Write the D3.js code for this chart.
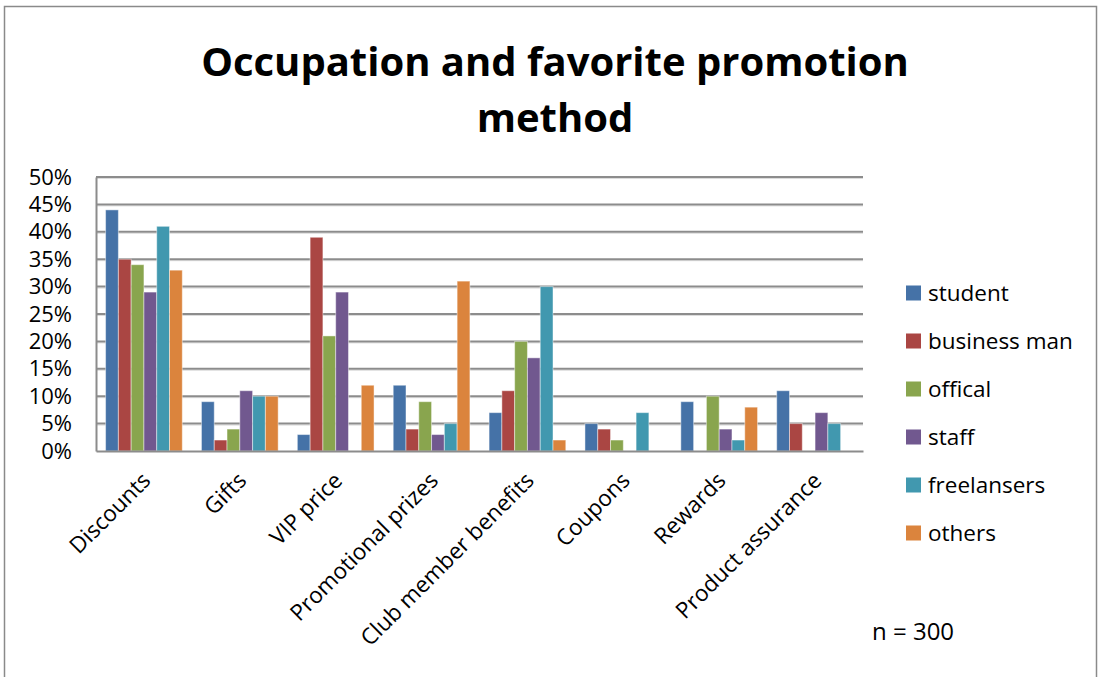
<!DOCTYPE html>
<html>
<head>
<meta charset="utf-8">
<script src="https://cdn.jsdelivr.net/npm/d3@7"></script>
<style>
  html, body { margin: 0; padding: 0; background: #fff; }
  svg { display: block; font-family: "Open Sans", "Noto Sans", sans-serif; }
</style>
</head>
<body>
<svg id="chart" width="1100" height="677"></svg>
<script>
// Promotion methods (x categories)
const categories = ["Discounts", "Gifts", "VIP price", "Promotional prizes",
  "Club member benefits", "Coupons", "Rewards", "Product assurance"];

// Occupation groups (series)
const seriesNames = ["student", "business man", "offical", "staff", "freelansers", "others"];

// Share (%) of each occupation choosing each method
const student     = [44, 9, 3, 12, 7, 5, 9, 11];
const businessMan = [35, 2, 39, 4, 11, 4, 0, 5];
const offical     = [34, 4, 21, 9, 20, 2, 10, 0];
const staff       = [29, 11, 29, 3, 17, 0, 4, 7];
const freelansers = [41, 10, 0, 5, 30, 7, 2, 5];
const others      = [33, 10, 12, 31, 2, 0, 8, 0];

const yTicks = [0, 5, 10, 15, 20, 25, 30, 35, 40, 45, 50];
const colors = ["#4572A7", "#AA4643", "#89A54E", "#71588F", "#4198AF", "#DB843D"];

const seriesValues = [student, businessMan, offical, staff, freelansers, others];
const rows = categories.map((c, i) => ({
  category: c,
  values: seriesNames.map((s, j) => ({ series: s, value: seriesValues[j][i] }))
}));

const svg = d3.select("#chart");

// outer chart frame
svg.append("rect")
  .attr("x", 4.5).attr("y", 6.5).attr("width", 1092).attr("height", 700)
  .attr("fill", "#fff").attr("stroke", "#8a8a8a").attr("stroke-width", 1.5);

const plot = { left: 96, right: 863, top: 177, bottom: 451 };

const x0 = d3.scaleBand().domain(categories).range([plot.left, plot.right]).paddingInner(0).paddingOuter(0);
const groupWidth = x0.bandwidth() * 0.8;
const x1 = d3.scaleBand().domain(seriesNames)
  .range([(x0.bandwidth() - groupWidth) / 2, (x0.bandwidth() + groupWidth) / 2]);
const y = d3.scaleLinear().domain([0, 50]).range([plot.bottom, plot.top]);
const color = d3.scaleOrdinal().domain(seriesNames).range(colors);

// title
const title = svg.append("text")
  .attr("x", 555).attr("text-anchor", "middle")
  .attr("font-weight", "bold").attr("font-size", 40).attr("fill", "#000");
title.append("tspan").attr("x", 555).attr("y", 76).text("Occupation and favorite promotion");
title.append("tspan").attr("x", 555).attr("y", 132).text("method");

// horizontal gridlines
const grid = svg.append("g");
grid.selectAll("line.shadow").data(yTicks.filter(t => t > 0)).join("line")
  .attr("class", "shadow")
  .attr("x1", plot.left).attr("x2", plot.right)
  .attr("y1", d => y(d) + 1.5).attr("y2", d => y(d) + 1.5)
  .attr("stroke", "#dcdcdc").attr("stroke-width", 1);
grid.selectAll("line.main").data(yTicks.filter(t => t > 0)).join("line")
  .attr("class", "main")
  .attr("x1", plot.left).attr("x2", plot.right)
  .attr("y1", d => y(d)).attr("y2", d => y(d))
  .attr("stroke", "#8c8c8c").attr("stroke-width", 2);

// y axis
const yAxis = d3.axisLeft(y).tickValues(yTicks).tickSize(0).tickPadding(24)
  .tickFormat(d => d + "%");
const yg = svg.append("g").attr("transform", `translate(${plot.left},0)`).call(yAxis);
yg.select(".domain").attr("stroke", "#8c8c8c").attr("stroke-width", 2);
yg.selectAll("text").attr("font-size", 22).attr("fill", "#000")
  .attr("font-family", "'Open Sans', sans-serif");

// bars
const groups = svg.append("g").selectAll("g").data(rows).join("g")
  .attr("transform", d => `translate(${x0(d.category)},0)`);
groups.selectAll("rect").data(d => d.values.filter(v => v.value > 0)).join("rect")
  .attr("x", d => x1(d.series))
  .attr("y", d => y(d.value))
  .attr("width", x1.bandwidth())
  .attr("height", d => y(0) - y(d.value))
  .attr("fill", d => color(d.series))
  .attr("stroke", "rgba(255,255,255,0.45)").attr("stroke-width", 1);

// x axis
const xAxis = d3.axisBottom(x0).tickSize(0).tickPadding(0);
const xg = svg.append("g").attr("transform", `translate(0,${plot.bottom})`).call(xAxis);
xg.select(".domain").attr("stroke", "#8c8c8c").attr("stroke-width", 2);
xg.selectAll("text")
  .attr("font-size", 22.5).attr("fill", "#000")
  .attr("font-family", "'Open Sans', sans-serif")
  .attr("text-anchor", "end")
  .attr("dy", 0)
  .attr("transform", "translate(8,31) rotate(-45)");

// legend
const legend = svg.append("g").attr("transform", "translate(906,293)");
const li = legend.selectAll("g").data(seriesNames).join("g")
  .attr("transform", (d, i) => `translate(0,${i * 48})`);
li.append("rect").attr("x", 0).attr("y", -7.5).attr("width", 15).attr("height", 15)
  .attr("fill", d => color(d));
li.append("text").attr("x", 22).attr("y", 0).attr("dy", "0.35em")
  .attr("font-size", 22.5).attr("fill", "#000").text(d => d);

// sample size note
svg.append("text").attr("x", 872).attr("y", 632).attr("dy", "0.35em")
  .attr("font-size", 24).attr("fill", "#000").text("n = 300");
</script>
</body>
</html>
